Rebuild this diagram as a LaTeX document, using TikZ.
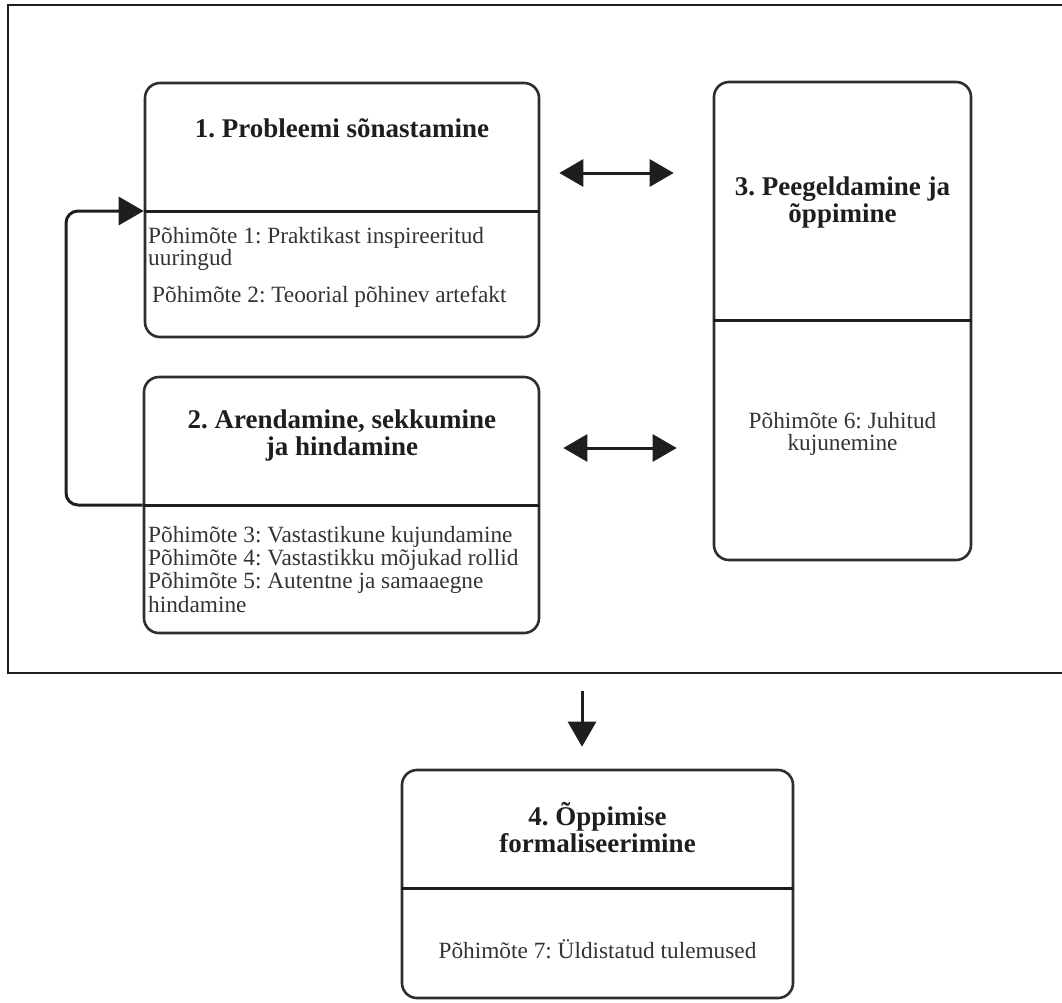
\documentclass[tikz,border=0pt]{standalone}
\usepackage{fontspec}
\setmainfont{Liberation Serif}
\frenchspacing
\usetikzlibrary{arrows.meta}
\definecolor{ink}{HTML}{1E1E1E}
\definecolor{bodyink}{HTML}{333333}
\definecolor{edge}{HTML}{2E2E2E}
\tikzset{
  phasebox/.style={draw=edge, line width=2.6pt, rounded corners=15pt, inner sep=0pt},
  divider/.style={draw=ink, line width=3pt},
  frameline/.style={draw=ink, line width=2.2pt},
  title/.style={font=\fontsize{27}{27}\selectfont\bfseries, text=ink, align=center, inner sep=0pt, anchor=base},
  body/.style={font=\fontsize{23.3}{23.3}\selectfont, text=bodyink, inner sep=0pt},
  link/.style={draw=ink, line width=3pt},
  bothways/.style={link, {Triangle[length=24pt,width=27pt]}-{Triangle[length=24pt,width=27pt]}},
  oneway/.style={link, -{Triangle[length=25pt,width=28pt]}},
}
\begin{document}
\begin{tikzpicture}[x=1pt, y=-1pt]
\useasboundingbox (0,0) rectangle (1062,1002);

% outer frame around phases 1-3
\node[frameline, minimum width=1055pt, minimum height=668pt, inner sep=0pt] (frame) at (535.5,339) {};

% phase boxes
\node[phasebox, minimum width=394pt, minimum height=254pt] (b1) at (342,210) {};
\node[phasebox, minimum width=395pt, minimum height=256pt] (b2) at (341.5,505) {};
\node[phasebox, minimum width=257pt, minimum height=478pt] (b3) at (842.5,321) {};
\node[phasebox, minimum width=391pt, minimum height=228pt] (b4) at (597.5,884) {};

% header / principle dividers
\coordinate (y1) at (0,211);
\coordinate (y2) at (0,505);
\coordinate (y3) at (0,320);
\coordinate (y4) at (0,888);
\coordinate (d1w) at (b1.west |- y1);
\coordinate (d2w) at (b2.west |- y2);
\draw[divider] (d1w) -- (b1.east |- y1);
\draw[divider] (d2w) -- (b2.east |- y2);
\draw[divider] (b3.west |- y3) -- (b3.east |- y3);
\draw[divider] (b4.west |- y4) -- (b4.east |- y4);

% titles (the base anchor of a multi-line node sits on its last line)
\node[title] (t1) at (342,137) {1. Probleemi sõnastamine};
\node[title] (t2) at (342,455) {2. Arendamine, sekkumine\\ja hindamine};
\node[title] (t3) at (842.5,222) {3. Peegeldamine ja\\õppimine};
\node[title] (t4) at (597.5,852) {4. Õppimise\\formaliseerimine};

% principles
\node[body, anchor=base west, align=left, font=\fontsize{23.3}{22}\selectfont] (p1) at (148,265) {Põhimõte 1: Praktikast inspireeritud\\uuringud};
\node[body, anchor=base west] (p2) at (152,302) {Põhimõte 2: Teoorial põhinev artefakt};
\node[body, anchor=base west, align=left] (p3) at (148,612) {Põhimõte 3: Vastastikune kujundamine\\Põhimõte 4: Vastastikku mõjukad rollid\\Põhimõte 5: Autentne ja samaaegne\\hindamine};
\node[body, anchor=base, align=center, font=\fontsize{23.3}{22}\selectfont] (p6) at (842.5,450) {Põhimõte 6: Juhitud\\kujunemine};
\node[body, anchor=base] (p7) at (597.5,958) {Põhimõte 7: Üldistatud tulemused};

% connectors
\coordinate (r1) at (0,173);
\coordinate (r2) at (0,448);
\coordinate (cx) at (582,0);
\draw[bothways, shorten <=19pt, shorten >=39pt] (b1.east |- r1) -- (b3.west |- r1);
\draw[bothways, shorten <=23pt, shorten >=36pt] (b2.east |- r2) -- (b3.west |- r2);
\draw[oneway, shorten <=17pt, shorten >=22pt] (frame.south -| cx) -- (b4.north -| cx);
\draw[oneway, rounded corners=12pt] (d2w) -- (66,505) -- (66,211) -- (d1w);
\end{tikzpicture}
\end{document}
